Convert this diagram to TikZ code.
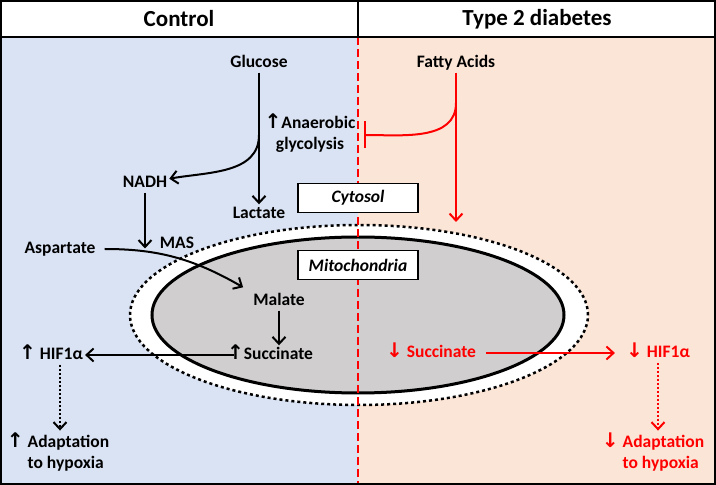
\documentclass[tikz,border=0pt]{standalone}
\usepackage{fontspec}
\setmainfont{Carlito}
\newfontfamily\arrowfont[Scale=1.15]{DejaVu Sans}
\definecolor{ctrlblue}{RGB}{218, 227, 243}
\definecolor{diabpeach}{RGB}{251, 229, 214}
\definecolor{mitogray}{RGB}{208, 206, 206}
\newcommand{\uparr}{{\arrowfont\char"2191}}
\newcommand{\dnarr}{{\arrowfont\char"2193}}
\usetikzlibrary{
  arrows.meta,
  calc,
  positioning,
}
\tikzset{
  >={Straight Barb[length=7pt,width=13pt]},
  txt/.style={font=\fontsize{17.5}{21}\selectfont\bfseries, inner sep=2pt},
  lbl/.style={txt, text height=12pt, text depth=3pt},
  redlbl/.style={lbl, text=red},
  head/.style={font=\fontsize{23}{27}\selectfont\bfseries},
  arr/.style={->, line width=2pt},
  redarr/.style={arr, draw=red},
  dotarr/.style={arr, dash pattern=on 2pt off 2pt},
  tagbox/.style={draw, fill=white, line width=1.5pt, minimum width=120pt, minimum height=29pt,
    inner sep=0pt, font=\fontsize{17.5}{21}\selectfont\bfseries\itshape},
}

\begin{document}
\begin{tikzpicture}[x=1pt,y=1pt]
        \useasboundingbox (0,0) rectangle (716,485);
        % two panels
        \fill[ctrlblue]  (0,0) rectangle (358,448);
        \fill[diabpeach] (358,0) rectangle (716,448);

        % mitochondria
        \draw[fill=white, line width=2.5pt, dash pattern=on 3pt off 3pt] (359,170) ellipse [x radius=229pt, y radius=90pt];
        \draw[fill=mitogray, line width=3pt] (358,170) ellipse [x radius=206pt, y radius=78pt];

        % divider
        \draw[red, line width=2.5pt, dash pattern=on 8pt off 4pt] (358,448) -- (358,0);

        \node[tagbox] (cyto) at (358,287) {Cytosol};
        \node[tagbox] (mito) at (358,220) {Mitochondria};

        % header and frame
        \node[head] (ctrl) at (179,466) {Control};
        \node[head] (t2d)  at (537,466) {Type 2 diabetes};
        \draw[line width=1.5pt] (0,448) -- (716,448);
        \draw[line width=1.5pt] (358,448) -- (358,485);
        \draw[line width=2.5pt] (1,1) rectangle (715,484);

        % control side
        \node[lbl] (glucose) at (259,422) {Glucose};
        \node[lbl] (lactate) at (259,271) {Lactate};
        \node[txt, align=center] (glyco) at (310,352) {\uparr Anaerobic\\glycolysis};
        \node[lbl] (nadh) at (145,302) {NADH};
        \node[lbl] (mas) at (177,241) {MAS};
        \node[lbl] (asp) at (60,236) {Aspartate};
        \node[lbl] (malate) at (279,184) {Malate};
        \node[lbl] (succ) at (270,130) {\uparr Succinate};
        \node[lbl] (hif) at (51,130) {\uparr{} HIF1α};
        \node[txt, align=left] (adapt) at (58,33) {\uparr{} Adaptation\\\phantom{\uparr{} }to hypoxia};

        \coordinate (gsplit) at (259,350);
        \draw[arr] (glucose) -- (lactate);
        \draw[arr] (gsplit) to[out=-90,in=10] (nadh);
        \draw[arr] (nadh) -- (nadh |- mas.base);
        \draw[arr, shorten <=7pt] (asp.east) to[out=0,in=150] ([shift={(-8,4)}]malate.north west);
        \draw[arr] (malate) -- (malate |- succ.north);
        \draw[arr, shorten <=-9pt] (succ) -- (hif);
        \draw[dotarr] ([xshift=9pt]hif.south) -- ([xshift=9pt]hif.south |- adapt.north);

        % diabetes side
        \node[lbl] (fatty) at (456,422) {Fatty Acids};
        \node[redlbl] (rsucc) at (431,132) {\dnarr{} Succinate};
        \node[redlbl] (rhif) at (658,132) {\dnarr{} HIF1α};
        \node[txt, text=red, align=left] (radapt) at (653,33) {\dnarr{} Adaptation\\\phantom{\dnarr{} }to hypoxia};

        \coordinate (rsplit) at (456,382);
        \coordinate (faend) at (456,263);
        \coordinate (inhib) at (364,350);
        \draw[redarr] (fatty) -- (faend);
        \draw[red, line width=2pt, -{Bar[width=27pt,line width=2pt]}] (rsplit) to[out=-90,in=0] (inhib);
        \draw[redarr, shorten <=8pt, shorten >=9pt] (rsucc) -- (rhif);
        \draw[dotarr, draw=red] (rhif.south) -- (rhif.south |- radapt.north);
    \end{tikzpicture}
\end{document}
